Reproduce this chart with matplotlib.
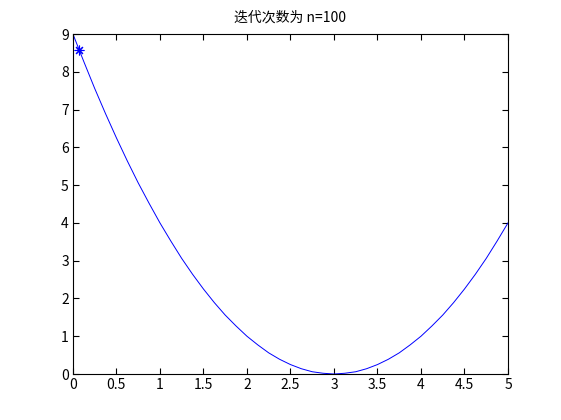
import matplotlib
matplotlib.use("Agg")
import matplotlib.pyplot as plt

plt.rcParams['font.family'] = ['Noto Sans CJK SC', 'DejaVu Sans']

# curve values
x = [0, 0.125, 0.25, 0.375, 0.5, 0.625, 0.75, 0.875, 1, 1.125, 1.25, 1.375, 1.5,
     1.625, 1.75, 1.875, 2, 2.125, 2.25, 2.375, 2.5, 2.625, 2.75, 2.875, 3,
     3.125, 3.25, 3.375, 3.5, 3.625, 3.75, 3.875, 4, 4.125, 4.25, 4.375, 4.5,
     4.625, 4.75, 4.875, 5]
y = [9, 8.27, 7.56, 6.89, 6.25, 5.64, 5.06, 4.52, 4, 3.52, 3.06, 2.64, 2.25,
     1.89, 1.56, 1.27, 1, 0.77, 0.56, 0.39, 0.25, 0.14, 0.06, 0.02, 0,
     0.02, 0.06, 0.14, 0.25, 0.39, 0.56, 0.77, 1, 1.27, 1.56, 1.89, 2.25,
     2.64, 3.06, 3.52, 4]
star_x = [0.07]
star_y = [8.58]
xticks = [0, 0.5, 1, 1.5, 2, 2.5, 3, 3.5, 4, 4.5, 5]
yticks = [0, 1, 2, 3, 4, 5, 6, 7, 8, 9]

fig = plt.figure(figsize=(5.61, 4.2), dpi=100)
ax = fig.add_axes([0.130, 0.1095, 0.7755, 0.8095])
ax.plot(x, y, color='blue', lw=0.7)
# matlab style asterisk
ax.plot(star_x, star_y, marker=(8, 2, 0), color='blue', ms=7, mew=0.8, ls='none')

ax.set_xlim(0, 5)
ax.set_ylim(0, 9)
ax.set_xticks(xticks)
ax.set_xticklabels([f'{t:g}' for t in xticks])
ax.set_yticks(yticks)
ax.tick_params(direction='in', top=True, right=True, length=4, width=0.8,
               labelsize=10, pad=3)
for s in ax.spines.values():
    s.set_linewidth(0.8)
ax.set_title('迭代次数为 n=100', fontsize=10, pad=9)

fig.savefig('out.png', dpi=100)
